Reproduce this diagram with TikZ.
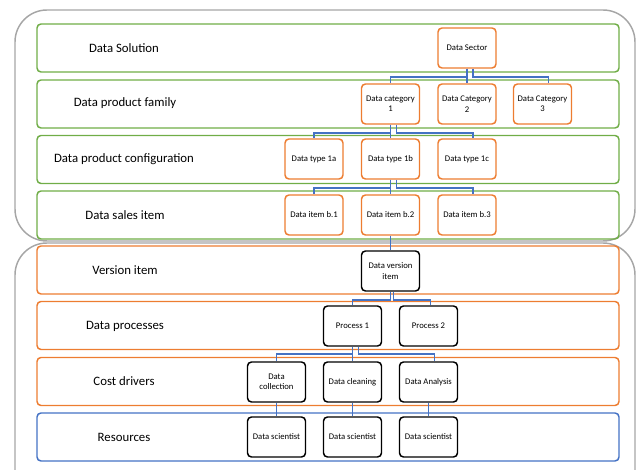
\documentclass[tikz,border=0pt]{standalone}
\usepackage{fontspec}
\setmainfont{Carlito}
\definecolor{bandgreen}{HTML}{70AD47}
\definecolor{bandorange}{HTML}{ED7D31}
\definecolor{bandblue}{HTML}{4472C4}
\definecolor{framegray}{HTML}{A6A6A6}
\tikzset{
  frame/.style={draw=framegray, line width=1.1pt, rounded corners=24pt},
  band/.style={rectangle, draw, line width=1.1pt, rounded corners=3pt,
    minimum width=436.5pt, minimum height=36pt, inner sep=0pt},
  bandlabel/.style={font=\fontsize{9.6}{11.5}\selectfont},
  obox/.style={rectangle, draw=bandorange, fill=white, line width=1.1pt, rounded corners=3pt,
    minimum width=43.5pt, minimum height=30pt, inner sep=1pt, align=center,
    font=\fontsize{6.5}{7.8}\selectfont},
  kbox/.style={obox, draw=black},
  conn/.style={draw=bandblue, line width=1.1pt},
}
\begin{document}
\begin{tikzpicture}[x=0.75pt,y=-0.75pt]
  \clip (0,0) rectangle (637,470);

  % outer frames
  \draw[frame] (15,10) rectangle (635,241);
  \draw[frame] (15,243) rectangle (635,510);

  % bands
  \begin{scope}[every node/.style={band}]
    \node[draw=bandgreen]  (solution) at (328,48)  {};
    \node[draw=bandgreen]  (family)   at (328,104) {};
    \node[draw=bandgreen]  (config)   at (328,159.5) {};
    \node[draw=bandgreen]  (sales)    at (328,215) {};
    \node[draw=bandorange] (version)  at (328,270) {};
    \node[draw=bandorange] (processes) at (328,325.5) {};
    \node[draw=bandorange] (drivers)  at (328,381.5) {};
    \node[draw=bandblue]   (resources) at (328,437) {};
  \end{scope}

  % band labels
  \begin{scope}[every node/.style={bandlabel}]
    \node (lsolution)  at (124,48)  {Data Solution};
    \node (lfamily)    at (125,103) {Data product family};
    \node (lconfig)    at (124,159) {Data product configuration};
    \node (lsales)     at (125,215) {Data sales item};
    \node (lversion)   at (125,270) {Version item};
    \node (lprocesses) at (125,326) {Data processes};
    \node (ldrivers)   at (124,381) {Cost drivers};
    \node (lresources) at (124,437) {Resources};
  \end{scope}

  % product side
  \begin{scope}[every node/.style={obox}]
    \node (sector) at (467,48)    {Data Sector};
    \node (cat1)   at (390.5,104) {Data category\\1};
    \node (cat2)   at (467,104)   {Data Category\\2};
    \node (cat3)   at (542.5,104) {Data Category\\3};
    \node (type1a) at (314,159)   {Data type 1a};
    \node (type1b) at (390.5,159) {Data type 1b};
    \node (type1c) at (467,159)   {Data type 1c};
    \node (item1)  at (314,215)   {Data item b.1};
    \node (item2)  at (390.5,215) {Data item b.2};
    \node (item3)  at (467,215)   {Data item b.3};
  \end{scope}

  % cost side
  \begin{scope}[every node/.style={kbox}]
    \node (dversion)  at (390.5,271) {Data version\\item};
    \node (proc1)     at (352.5,326) {Process 1};
    \node (proc2)     at (428.5,326) {Process 2};
    \node (collect)   at (276.5,382) {Data\\collection};
    \node (clean)     at (352.5,382) {Data cleaning};
    \node (analysis)  at (428.5,382) {Data Analysis};
    \node (sci1)      at (276.5,437) {Data scientist};
    \node (sci2)      at (352.5,437) {Data scientist};
    \node (sci3)      at (428.5,437) {Data scientist};
  \end{scope}

  % bus heights
  \coordinate (bus1) at (0,77);
  \coordinate (bus2) at (0,133);
  \coordinate (bus3) at (0,188);
  \coordinate (bus4) at (0,300);
  \coordinate (bus5) at (0,354);

  % connectors
  \begin{scope}[conn]
    \draw (sector.south) -- (sector.south |- bus1) -| (cat1.north);
    \draw (sector.south) -- (cat2.north);
    \draw ([xshift=4.5pt]sector.south) |- ([xshift=4.5pt]cat3.north |- bus1) -- ([xshift=4.5pt]cat3.north);

    \draw (cat1.south) -- (cat1.south |- bus2) -| (type1a.north);
    \draw (cat1.south) -- (type1b.north);
    \draw ([xshift=4.5pt]cat1.south) |- ([xshift=4.5pt]type1c.north |- bus2) -- ([xshift=4.5pt]type1c.north);

    \draw (type1b.south) -- (type1b.south |- bus3) -| (item1.north);
    \draw (type1b.south) -- (item2.north);
    \draw ([xshift=4.5pt]type1b.south) |- ([xshift=4.5pt]item3.north |- bus3) -- ([xshift=4.5pt]item3.north);

    \draw (item2.south) -- (dversion.north);

    \draw (dversion.south) -- (dversion.south |- bus4) -| (proc1.north);
    \draw ([xshift=2.25pt]dversion.south) |- ([xshift=1.5pt]proc2.north |- bus4) -- ([xshift=1.5pt]proc2.north);

    \draw (proc1.south) -- (proc1.south |- bus5) -| (collect.north);
    \draw (proc1.south) -- (clean.north);
    \draw ([xshift=4.5pt]proc1.south) |- ([xshift=4.5pt]analysis.north |- bus5) -- ([xshift=4.5pt]analysis.north);

    \draw (collect.south) -- (sci1.north);
    \draw (clean.south) -- (sci2.north);
    \draw (analysis.south) -- (sci3.north);
  \end{scope}
\end{tikzpicture}
\end{document}
